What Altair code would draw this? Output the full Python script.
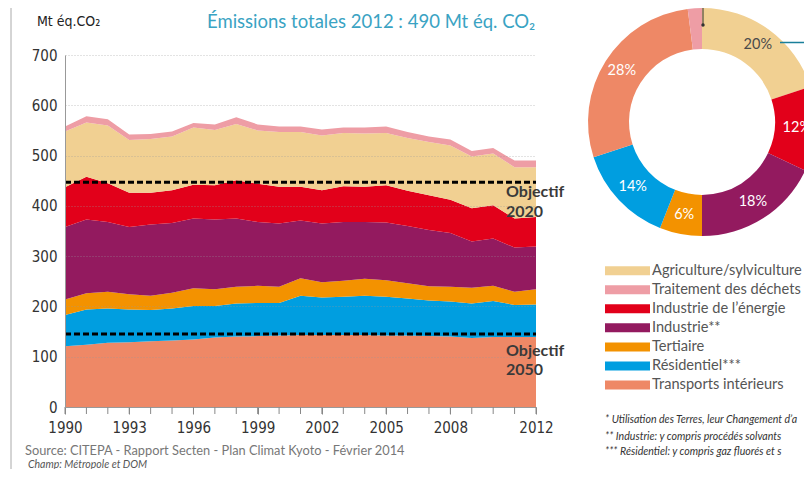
import altair as alt
import pandas as pd

# ---------------- data ----------------
years = list(range(1990, 2013))
transports = [121,124,128,129,131,132,134,138,140,141,142,143,143,143,143,142,142,141,140,137,139,139,139]
residentiel = [62,70,68,65,62,64,67,63,66,66,65,78,75,76,78,77,74,71,70,69,72,64,65]
tertiaire = [31,32,33,30,28,31,35,33,33,34,32,35,30,32,34,33,30,28,29,31,30,26,30]
industrie = [144,147,139,134,142,139,139,139,136,127,126,115,117,117,113,115,114,112,107,92,94,88,85]
energie = [79,85,77,68,63,65,67,68,76,76,73,67,66,71,70,74,70,69,66,66,66,58,59]
agriculture = [111,108,115,105,107,107,114,110,112,106,109,109,109,106,106,104,105,106,108,103,103,102,99]
dechets = [10,12,12,11,10,10,9,11,13,12,11,11,12,11,12,13,12,11,12,11,11,13,13]

categories = ["Agriculture/sylviculture", "Traitement des déchets", "Industrie de l’énergie",
              "Industrie**", "Tertiaire", "Résidentiel***", "Transports intérieurs"]
colors = ["#F1D092", "#EE9DA5", "#E2001A", "#931A5F", "#F39200", "#009EE0", "#EE8866"]

# stacking order bottom -> top
stack_cats = ["Transports intérieurs", "Résidentiel***", "Tertiaire", "Industrie**",
              "Industrie de l’énergie", "Agriculture/sylviculture", "Traitement des déchets"]
stack_series = [transports, residentiel, tertiaire, industrie, energie, agriculture, dechets]

# donut 2012 (clockwise from top)
donut_cats = ["Agriculture/sylviculture", "Industrie de l’énergie", "Industrie**", "Tertiaire",
              "Résidentiel***", "Transports intérieurs", "Traitement des déchets"]
donut_pct = [20, 12, 18, 6, 14, 28, 2]

objectives = [447, 145]
objective_names = ["2020", "2050"]
x_tick_labels = [1990, 1993, 1996, 1999, 2002, 2005, 2008, 2012]
y_ticks = [0, 100, 200, 300, 400, 500, 600, 700]

# ---------------- layout constants ----------------
W, H = 471, 352
CX, CY = 637, 67
R_OUT, R_IN = 114, 73
GILL = "Lato, Open Sans, sans-serif"
NARROW = "Liberation Sans Narrow, DejaVu Sans Condensed, sans-serif"

rows = []
for i, (c, s) in enumerate(zip(stack_cats, stack_series)):
    for y, v in zip(years, s):
        rows.append({"year": y, "cat": c, "value": v, "sidx": i})
df = pd.DataFrame(rows)

color_scale = alt.Scale(domain=categories, range=colors)

areas = alt.Chart(df).mark_area(opacity=1).encode(
    x=alt.X("year:Q", title=None,
            scale=alt.Scale(domain=[1990, 2012], nice=False, zero=False),
            axis=alt.Axis(values=x_tick_labels, format="d", tickSize=7, tickColor="#888",
                          domainColor="#999", labelOverlap=False, labelFlush=False,
                          labelFont=NARROW, labelFontSize=15,
                          labelColor="#333", labelPadding=6, grid=False)),
    y=alt.Y("value:Q", stack="zero", title=None,
            scale=alt.Scale(domain=[0, 700], nice=False),
            axis=alt.Axis(values=y_ticks, ticks=False, domainColor="#999", grid=True,
                          gridDash=[1, 2], gridColor="#999", gridOpacity=0.55,
                          labelFont=NARROW, labelFontSize=15, labelColor="#333",
                          labelPadding=8, zindex=1)),
    color=alt.Color("cat:N", scale=color_scale, legend=None),
    order=alt.Order("sidx:Q", sort="ascending"),
)

# yearly tick marks under the x axis
year_ticks = alt.Chart(pd.DataFrame({"year": years})).mark_rule(color="#888").encode(
    x="year:Q", y=alt.value(H), y2=alt.value(H + 7))

obj_df = pd.DataFrame({"v": objectives, "name": objective_names,
                       "x0": [1990] * 2, "x1": [2012] * 2})
obj_rules = alt.Chart(obj_df).mark_rule(color="black", strokeWidth=3, strokeDash=[6, 3]).encode(
    x="x0:Q", x2="x1:Q", y="v:Q")


def label(text, x, y, size, color, font=GILL, weight="normal", style="normal",
          align="left", baseline="middle"):
    return alt.Chart(pd.DataFrame({"t": [text]})).mark_text(
        x=x, y=y, fontSize=size, color=color, font=font, fontWeight=weight,
        fontStyle=style, align=align, baseline=baseline).encode(text="t:N")


def hline(x0, x1, y, color, width=1):
    return alt.Chart(pd.DataFrame({"a": [0]})).mark_rule(color=color, strokeWidth=width).encode(
        x=alt.value(x0), x2=alt.value(x1), y=alt.value(y))


def vline(x, y0, y1, color, width=1):
    return alt.Chart(pd.DataFrame({"a": [0]})).mark_rule(color=color, strokeWidth=width).encode(
        x=alt.value(x), y=alt.value(y0), y2=alt.value(y1))


obj_labels = [
    label("Objectif", 441, 137, 16, "#3a3a3a", weight="bold"),
    label("2020", 441, 157, 16, "#3a3a3a", weight="bold"),
    label("Objectif", 441, 296, 16, "#3a3a3a", weight="bold"),
    label("2050", 441, 315, 16, "#3a3a3a", weight="bold"),
]

# donut
ddf = pd.DataFrame({"cat": donut_cats, "pct": donut_pct, "oidx": list(range(len(donut_cats)))})
ddf["lab"] = [f"{p}%" if p >= 5 else "" for p in donut_pct]
ddf["lc"] = ["#4a4a4a"] + ["#ffffff"] * (len(donut_cats) - 1)

donut = alt.Chart(ddf).mark_arc(innerRadius=R_IN, outerRadius=R_OUT).encode(
    theta=alt.Theta("pct:Q", stack=True),
    color=alt.Color("cat:N", scale=color_scale, legend=None),
    order=alt.Order("oidx:Q", sort="ascending"),
    x=alt.value(CX), y=alt.value(CY),
)
donut_text = alt.Chart(ddf).mark_text(radius=95, fontSize=14.5, font=GILL).encode(
    theta=alt.Theta("pct:Q", stack=True),
    order=alt.Order("oidx:Q", sort="ascending"),
    text="lab:N",
    fill=alt.Fill("lc:N", scale=None),
    x=alt.value(CX), y=alt.value(CY),
)

leaders = [
    vline(638, -60, -30, "#333"),
    alt.Chart(pd.DataFrame({"a": [0]})).mark_circle(size=12, color="#333", opacity=1).encode(
        x=alt.value(638), y=alt.value(-30)),
    hline(715, 760, -12.5, "#1A7F9A", 1.5),
]

# legend
legend_layers = []
for i, c in enumerate(categories):
    ly = 215.7 + i * 19.05
    legend_layers.append(
        alt.Chart(pd.DataFrame({"cat": [c]})).mark_rect().encode(
            x=alt.value(540), x2=alt.value(585), y=alt.value(ly - 4.5), y2=alt.value(ly + 4.5),
            color=alt.Color("cat:N", scale=color_scale, legend=None)))
    legend_layers.append(label(c, 587, ly, 14.6, "#555"))

footnotes = [
    label("* Utilisation des Terres, leur Changement d’a", 540, 365, 10.6, "#333", style="italic"),
    label("** Industrie: y compris procédés solvants", 540, 381.5, 10.6, "#333", style="italic"),
    label("*** Résidentiel: y compris gaz fluorés et s", 540, 396.5, 10.6, "#333", style="italic"),
]

titles = [
    label("Mt éq.CO₂", -28, -33, 14, "#222", font=NARROW),
    label("Émissions totales 2012 : 490 Mt éq. CO₂", 142, -33, 18.5, "#3AA3C3"),
    label("Source: CITEPA - Rapport Secten - Plan Climat Kyoto - Février 2014", -40, 396, 12.8, "#777"),
    label("Champ: Métropole et DOM", -37, 409.5, 10.5, "#555", style="italic"),
]

frame = [vline(-54, -60, 420, "#aaa")]

chart = alt.layer(
    areas, year_ticks, obj_rules, *obj_labels, donut, donut_text, *leaders, *legend_layers,
    *footnotes, *titles, *frame
).properties(
    width=W, height=H,
    autosize=alt.AutoSizeParams(type="none"),
    padding={"left": 57, "top": 47, "right": 268, "bottom": 62},
    background="white",
).configure_view(stroke=None)

chart.save("out.html", embed_options={"renderer": "svg", "actions": False})
